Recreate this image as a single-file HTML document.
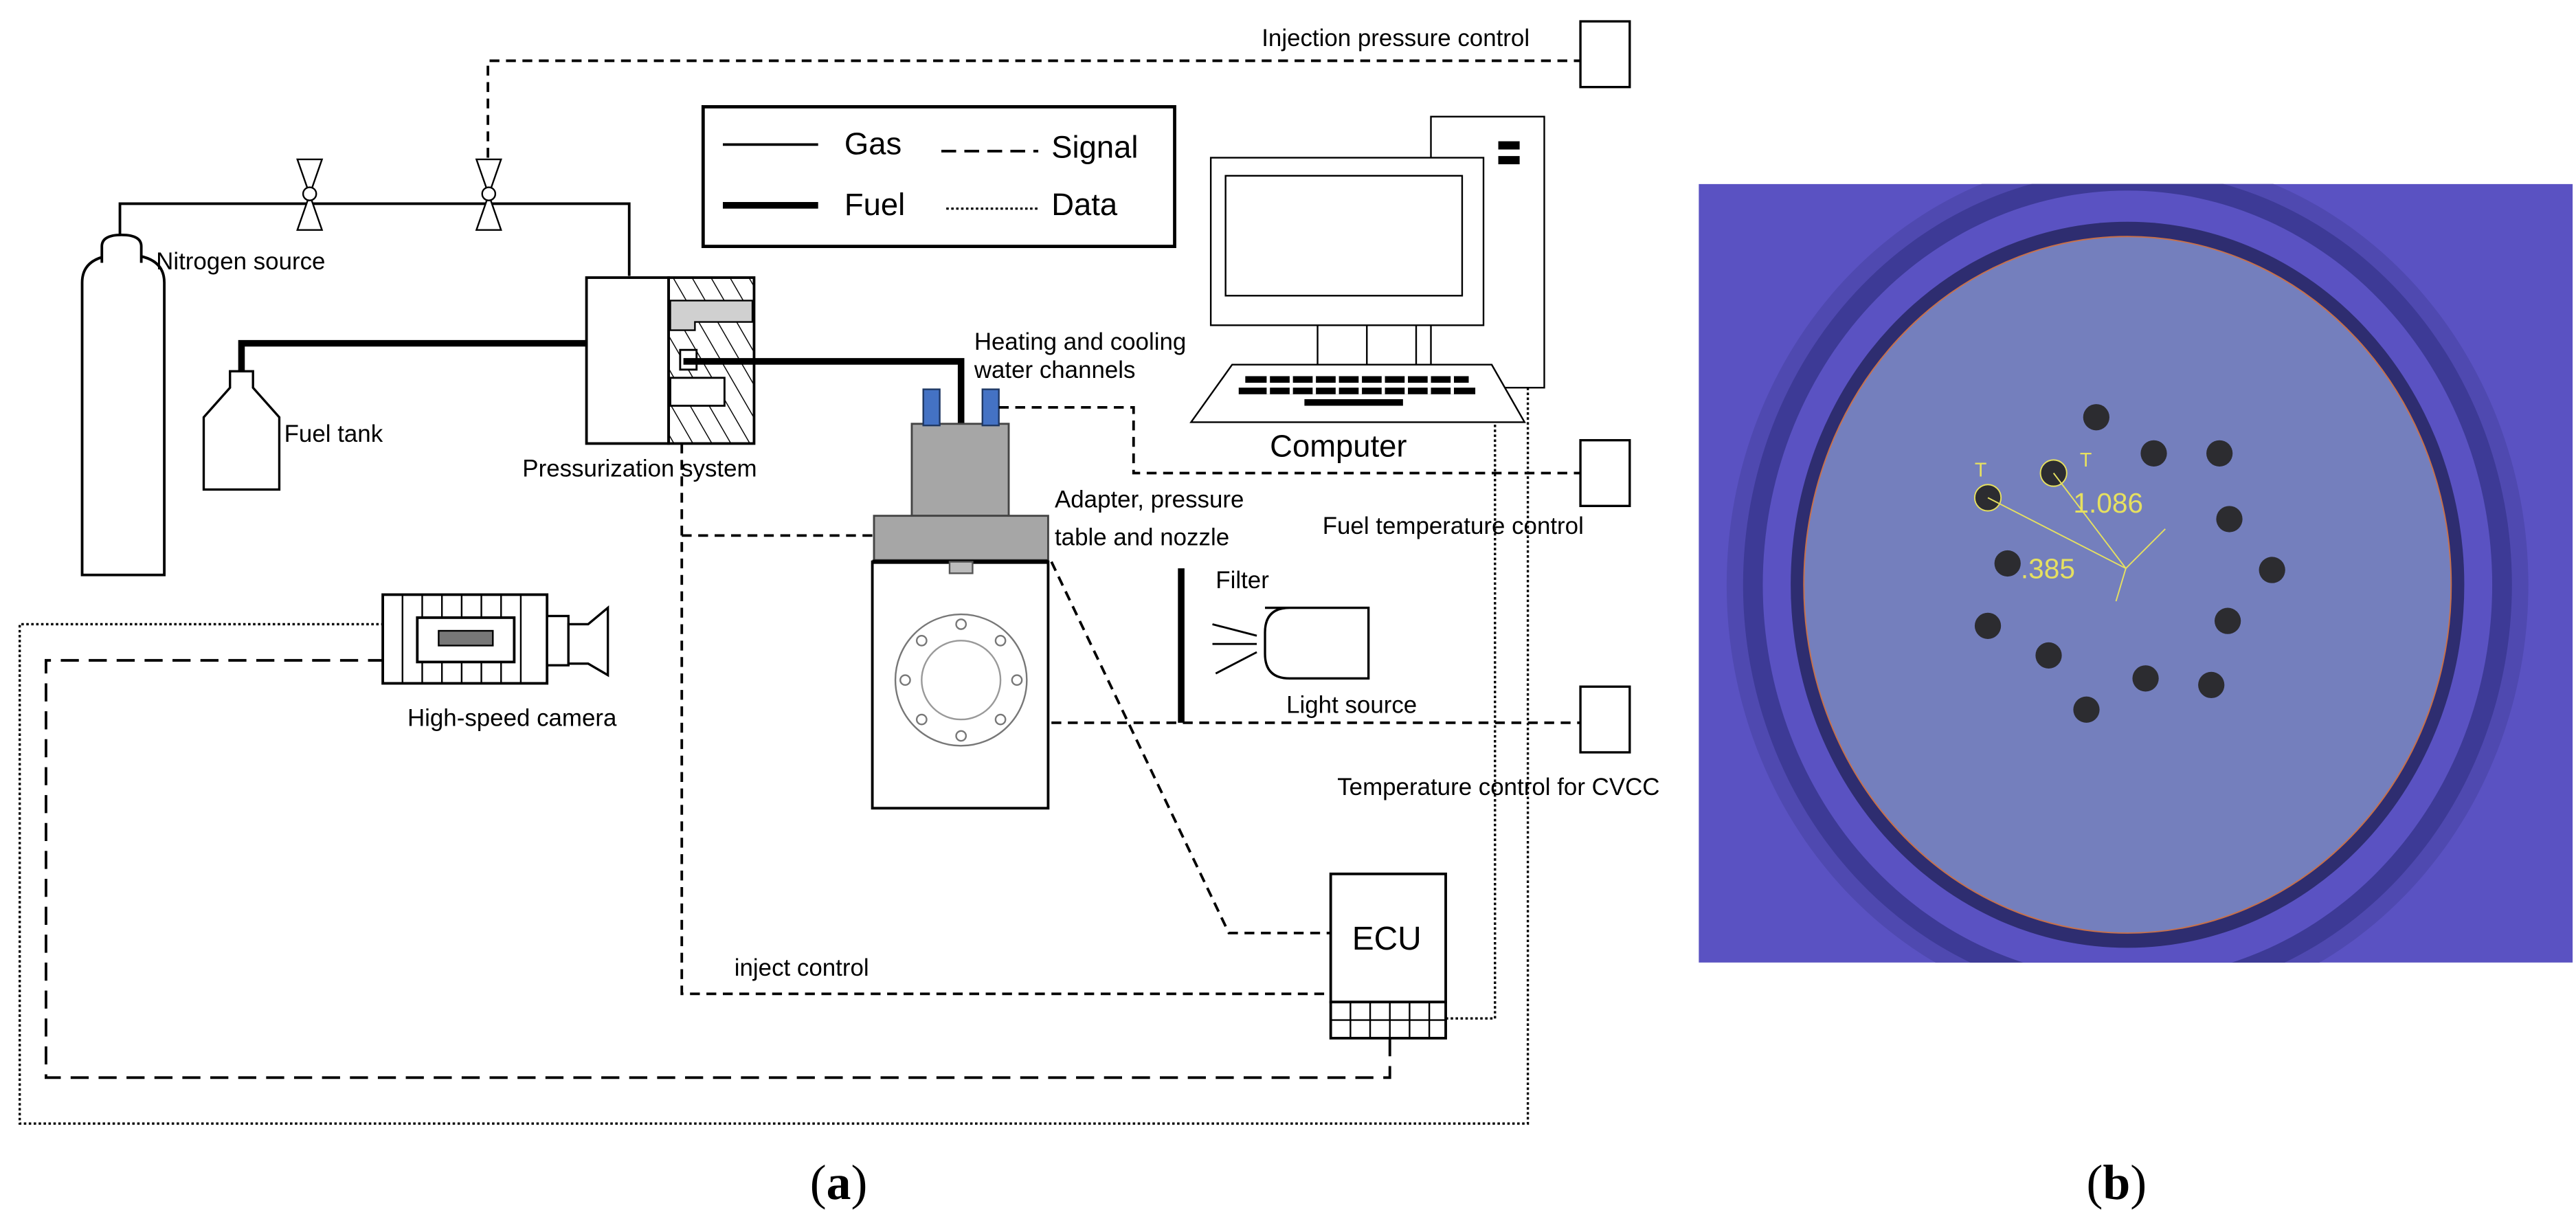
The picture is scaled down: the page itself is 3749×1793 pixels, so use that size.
<!DOCTYPE html>
<html><head><meta charset="utf-8"><style>
html,body{margin:0;padding:0;background:#fff;}
svg{display:block;}
text{font-family:"Liberation Sans",sans-serif;fill:#000;}
</style></head><body>
<svg width="3749" height="1793" viewBox="0 0 1568 750" preserveAspectRatio="none" xmlns="http://www.w3.org/2000/svg">
<defs>
<pattern id="hatch" width="10" height="10" patternUnits="userSpaceOnUse" patternTransform="rotate(-30)">
<rect width="10" height="10" fill="#fff"/><line x1="0" y1="0" x2="0" y2="10" stroke="#000" stroke-width="1.2"/>
</pattern>
</defs>
<g fill="none" stroke="#000">
<path d="M297,96 V37 H962" stroke-width="1.6" stroke-dasharray="6,4"/>
<rect x="962" y="13" width="30" height="40" stroke-width="1.4" fill="#fff"/>
<rect x="962" y="268" width="30" height="40" stroke-width="1.4" fill="#fff"/>
<rect x="962" y="418" width="30" height="40" stroke-width="1.4" fill="#fff"/>
<path d="M73,143 V124 H383 V168" stroke-width="1.6"/>
<path d="M181,97 H196 L181,140 H196 Z M290,97 H305 L290,140 H305 Z" stroke-width="1" fill="#fff"/>
<circle cx="188.5" cy="118" r="4" fill="#fff" stroke-width="1"/>
<circle cx="297.5" cy="118" r="4" fill="#fff" stroke-width="1"/>
<rect x="428" y="65" width="287" height="85" stroke-width="2"/>
<line x1="440" y1="88" x2="498" y2="88" stroke-width="1.6"/>
<line x1="440" y1="125" x2="498" y2="125" stroke-width="4"/>
<line x1="573" y1="92" x2="632" y2="92" stroke-width="1.6" stroke-dasharray="9,5"/>
<line x1="576" y1="127" x2="632" y2="127" stroke-width="1.4" stroke-dasharray="1.5,1.5"/>
<path d="M50,350 V172 Q50,155 75,155 Q100,155 100,172 V350 Z" stroke-width="1.6" fill="#fff"/>
<path d="M62,160 V150 Q62,143 74,143 Q86,143 86,150 V160" stroke-width="1.6" fill="#fff"/>
<path d="M147,236 V209 H357" stroke-width="4"/>
<path d="M124,298 V254 L140,236 V226 H154 V236 L170,254 V298 Z" stroke-width="1.4" fill="#fff"/>
<rect x="357" y="169" width="50" height="101" stroke-width="1.6" fill="#fff"/>
<rect x="407" y="169" width="52" height="101" stroke-width="1.6" fill="url(#hatch)"/>
<path d="M408,183 H458 V196 H423 V201 H408 Z" fill="#d0d0d0" stroke="#000" stroke-width="1"/>
<rect x="408" y="230" width="33" height="17" fill="#fff" stroke-width="1.2"/>
<rect x="414" y="213" width="10" height="12" fill="#fff" stroke-width="1.2"/>
<path d="M416,220 H585 V258" stroke-width="4"/>
<rect x="555" y="258" width="59" height="56" fill="#a6a6a6" stroke="#444" stroke-width="1.2"/>
<rect x="532" y="314" width="106" height="27" fill="#a6a6a6" stroke="#444" stroke-width="1.2"/>
<rect x="562" y="237" width="10" height="22" fill="#4472c4" stroke="#1f3864" stroke-width="1"/>
<rect x="598" y="237" width="10" height="22" fill="#4472c4" stroke="#1f3864" stroke-width="1"/>
<path d="M608,248 H690 V288 H962" stroke-width="1.6" stroke-dasharray="6,4"/>
<rect x="531" y="342" width="107" height="150" stroke-width="1.6" fill="#fff"/>
<line x1="531" y1="342" x2="638" y2="342" stroke-width="2.5"/>
<rect x="578" y="342" width="14" height="7" fill="#bbb" stroke="#555" stroke-width="1"/>
<circle cx="585" cy="414" r="40" stroke="#777" stroke-width="1"/>
<circle cx="585" cy="414" r="24" stroke="#999" stroke-width="1"/>
<g stroke="#777" stroke-width="1" fill="#fff">
<circle cx="585" cy="380" r="3"/><circle cx="585" cy="448" r="3"/><circle cx="551" cy="414" r="3"/><circle cx="619" cy="414" r="3"/>
<circle cx="561" cy="390" r="3"/><circle cx="609" cy="390" r="3"/><circle cx="561" cy="438" r="3"/><circle cx="609" cy="438" r="3"/>
</g>
<path d="M415,270 V605 H808" stroke-width="1.6" stroke-dasharray="6,4"/>
<path d="M415,326 H532" stroke-width="1.6" stroke-dasharray="6,4"/>
<path d="M640,342 L748,568 H810" stroke-width="1.6" stroke-dasharray="6,4"/>
<path d="M640,440 H962" stroke-width="1.6" stroke-dasharray="6,4"/>
<path d="M846,632 V656 H28 V402 H233" stroke-width="1.6" stroke-dasharray="11,6"/>
<path d="M880,620 H910 V236" stroke-width="1.4" stroke-dasharray="1.5,1.5"/>
<path d="M930,236 V684 H12 V380 H233" stroke-width="1.4" stroke-dasharray="1.5,1.5"/>
<line x1="719" y1="346" x2="719" y2="440" stroke-width="4"/>
<path d="M770,370 H833 V413 H785 Q770,413 770,398 V385 Q770,370 785,370 Z" stroke-width="1.4" fill="#fff"/>
<path d="M738,380 L765,387 M738,392 H765 M740,410 L765,397" stroke-width="1.2"/>
<rect x="810" y="532" width="70" height="78" stroke-width="1.6" fill="#fff"/>
<rect x="810" y="610" width="70" height="22" stroke-width="1.6" fill="#fff"/>
<path d="M810,621 H880 M822,610 V632 M834,610 V632 M846,610 V632 M858,610 V632 M870,610 V632" stroke-width="1"/>
<rect x="233" y="362" width="100" height="54" stroke-width="1.6" fill="#fff"/>
<path d="M245,362 V416 M257,362 V416 M269,362 V416 M281,362 V416 M293,362 V416 M305,362 V416 M317,362 V416" stroke-width="1"/>
<rect x="254" y="376" width="59" height="27" stroke-width="1.6" fill="#fff"/>
<rect x="267" y="384" width="33" height="9" fill="#777" stroke-width="1"/>
<rect x="333" y="375" width="13" height="30" stroke-width="1.4" fill="#fff"/>
<path d="M346,380 H358 L370,370 V411 L358,404 H346 Z" stroke-width="1.4" fill="#fff"/>
<rect x="871" y="71" width="69" height="165" stroke-width="1" fill="#fff"/>
<rect x="912" y="86" width="13" height="5" fill="#000" stroke="none"/>
<rect x="912" y="95" width="13" height="5" fill="#000" stroke="none"/>
<rect x="737" y="96" width="166" height="102" stroke-width="1" fill="#fff"/>
<rect x="746" y="107" width="144" height="73" stroke-width="1"/>
<path d="M802,198 V222 M832,198 V222 M862,198 V222" stroke-width="1"/>
<path d="M750,222 H908 L928,257 H725 Z" stroke-width="1" fill="#fff"/>
<g fill="#000" stroke="none">
<rect x="758" y="229" width="136" height="4"/>
<rect x="754" y="236" width="144" height="4"/>
<rect x="794" y="243" width="60" height="4"/>
</g>
<path d="M772,229 V240 M786,229 V240 M800,229 V240 M814,229 V240 M828,229 V240 M842,229 V240 M856,229 V240 M870,229 V240 M884,229 V240" stroke="#fff" stroke-width="2"/>
</g>
<g font-size="14.6">
<text x="768" y="28">Injection pressure control</text>
<text x="95" y="164">Nitrogen source</text>
<text x="173" y="269">Fuel tank</text>
<text x="318" y="290">Pressurization system</text>
<text x="593" y="213">Heating and cooling</text>
<text x="593" y="230">water channels</text>
<text x="642" y="309">Adapter, pressure</text>
<text x="642" y="332">table and nozzle</text>
<text x="805" y="325">Fuel temperature control</text>
<text x="740" y="358">Filter</text>
<text x="783" y="434">Light source</text>
<text x="814" y="484">Temperature control for CVCC</text>
<text x="248" y="442">High-speed camera</text>
<text x="447" y="594">inject control</text>
</g>
<g font-size="19">
<text x="514" y="94">Gas</text><text x="514" y="131">Fuel</text>
<text x="640" y="96">Signal</text><text x="640" y="131">Data</text>
<text x="773" y="278">Computer</text>
<text x="823" y="578" font-size="20">ECU</text>
</g>
<text x="493" y="730" font-size="30" style="font-family:'Liberation Serif',serif">(<tspan font-weight="bold">a</tspan>)</text>
<text x="1270" y="730" font-size="30" style="font-family:'Liberation Serif',serif">(<tspan font-weight="bold">b</tspan>)</text>
<svg x="1034" y="112" width="532" height="474" viewBox="1034 112 532 474">
<rect x="1034" y="112" width="532" height="474" fill="#5a52c2"/>
<ellipse cx="1295" cy="356" rx="244" ry="262" fill="#4f49b0"/>
<ellipse cx="1295" cy="356" rx="234" ry="252" fill="#3d3a96"/>
<ellipse cx="1295" cy="356" rx="222" ry="240" fill="#5a52c2"/>
<ellipse cx="1295" cy="356" rx="205" ry="221" fill="#2e2d70"/>
<ellipse cx="1295" cy="356" rx="197" ry="212" fill="#747fbd" stroke="#c8704a" stroke-width="0.8"/>
<g fill="#2c2c30">
<circle cx="1276" cy="254" r="8"/><circle cx="1311" cy="276" r="8"/><circle cx="1351" cy="276" r="8"/>
<circle cx="1357" cy="316" r="8"/><circle cx="1383" cy="347" r="8"/><circle cx="1356" cy="378" r="8"/>
<circle cx="1346" cy="417" r="8"/><circle cx="1306" cy="413" r="8"/><circle cx="1270" cy="432" r="8"/>
<circle cx="1247" cy="399" r="8"/><circle cx="1210" cy="381" r="8"/><circle cx="1222" cy="343" r="8"/>
<circle cx="1210" cy="303" r="8"/><circle cx="1250" cy="288" r="8"/>
</g>
<g stroke="#e6e060" stroke-width="0.8" fill="none">
<path d="M1210,303 L1294,346 L1250,288"/>
<path d="M1294,346 L1318,322 M1294,346 L1288,366"/>
<circle cx="1210" cy="303" r="8"/><circle cx="1250" cy="288" r="8"/>
</g>
<text x="1262" y="312" font-size="17" style="fill:#e6e060">1.086</text>
<text x="1230" y="352" font-size="17" style="fill:#e6e060">.385</text>
<text x="1202" y="290" font-size="12" style="fill:#e6e060">T</text>
<text x="1266" y="284" font-size="12" style="fill:#e6e060">T</text>
</svg>
</svg>
</body></html>
